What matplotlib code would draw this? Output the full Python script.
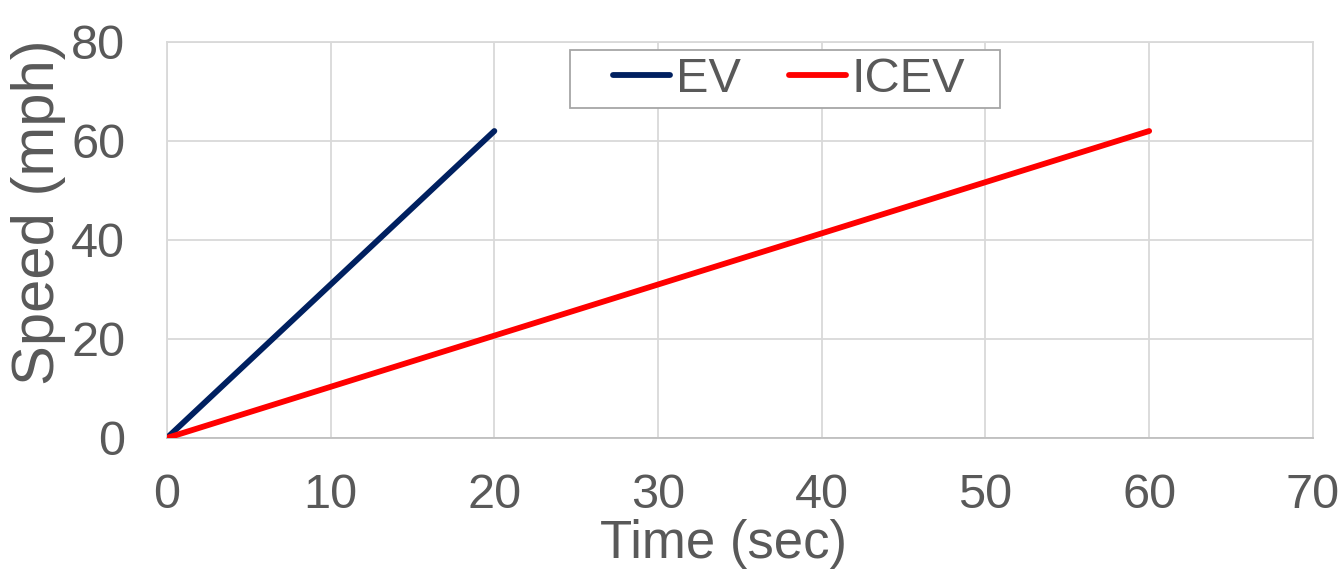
import matplotlib.pyplot as plt
from matplotlib.patches import Rectangle

plt.rcParams['font.family'] = ['Liberation Sans', 'DejaVu Sans']

# Data
ev_time = [0, 20]
ev_speed = [0, 62]
icev_time = [0, 60]
icev_speed = [0, 62]
x_ticks = [0, 10, 20, 30, 40, 50, 60, 70]
y_ticks = [0, 20, 40, 60, 80]

text_color = '#595959'
grid_color = '#d9d9d9'

fig = plt.figure(figsize=(13.41, 5.74), dpi=100)
ax = fig.add_axes([0.1245, 0.237, 0.8545, 0.690])

ax.plot(ev_time, ev_speed, color='#002060', linewidth=4.2, label='EV', solid_capstyle='round', zorder=3)
ax.plot(icev_time, icev_speed, color='#ff0000', linewidth=4.2, label='ICEV', solid_capstyle='round', zorder=3)

ax.set_xlim(0, 70)
ax.set_ylim(0, 80)
ax.set_xticks(x_ticks)
ax.set_yticks(y_ticks)
ax.tick_params(axis='both', length=0, labelsize=35, labelcolor=text_color)
ax.tick_params(axis='x', pad=25)
ax.tick_params(axis='y', pad=30)

ax.grid(True, color=grid_color, linewidth=1.3)
ax.set_axisbelow(True)
for s in ax.spines.values():
    s.set_color(grid_color)
    s.set_linewidth(1.3)
ax.spines['bottom'].set_color('#bfbfbf')

ax.set_xlabel('Time (sec)', fontsize=38, color=text_color)
ax.set_ylabel('Speed (mph)', fontsize=43, color=text_color)
ax.xaxis.set_label_coords(0.486, -0.205)
ax.yaxis.set_label_coords(-0.112, 0.57)
ax.xaxis.label.set_va('top')
ax.yaxis.label.set_va('center')

# legend frame drawn separately (wide horizontal padding, tight vertical)
frame = Rectangle((0.352, 0.833), 0.375, 0.147, transform=ax.transAxes,
                  facecolor='white', edgecolor='#a6a6a6', linewidth=1.3, zorder=2.5)
ax.add_patch(frame)
leg = ax.legend(loc='center', bbox_to_anchor=(0.543, 0.905), ncol=2, fontsize=35,
                frameon=False, handlelength=1.17, handletextpad=0.12,
                columnspacing=1.0, borderpad=0, labelcolor=text_color)
leg.set_zorder(5)

fig.savefig('out.png', dpi=100, facecolor='white')
